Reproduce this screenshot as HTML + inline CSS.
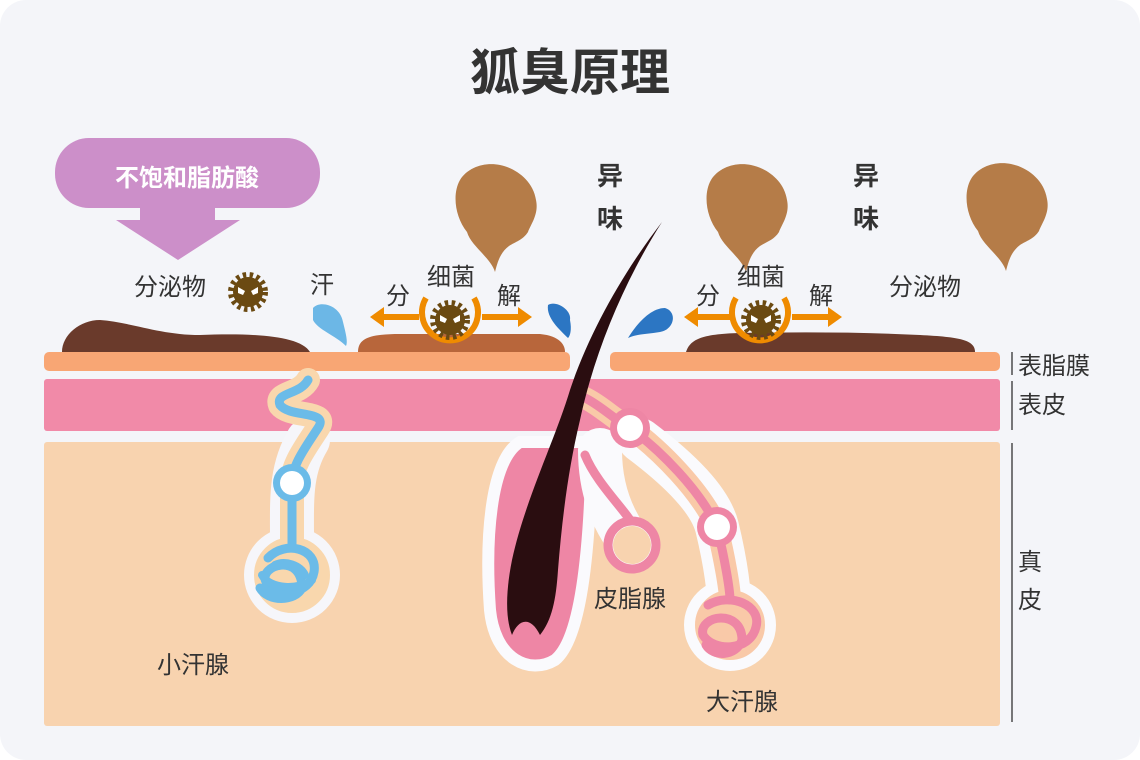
<!DOCTYPE html>
<html><head><meta charset="utf-8"><style>
html,body{margin:0;padding:0;background:#ffffff}
svg{display:block}
text{font-family:"Liberation Sans","Noto Sans CJK SC",sans-serif;fill:#333}
</style></head><body>
<svg width="1140" height="760" viewBox="0 0 1140 760" xmlns="http://www.w3.org/2000/svg">
<defs>
<g id="bact">
<circle r="16" fill="none" stroke="#6b4a12" stroke-width="8" stroke-dasharray="3.2 3.2"/>
<circle r="15" fill="#6b4a12"/>
<path d="M-10,-5 L-3,-1 L-5,3 L-10,1Z M10,-5 L3,-1 L5,3 L10,1Z" fill="#fff"/>
</g>
<path id="smell" d="M0,0 C-4,-14 -24,-26 -28,-40 C-40,-55 -43,-78 -35,-92 C-27,-105 -10,-110 5,-107 C20,-104 38,-92 41,-72 C44,-58 36,-48 33,-40 C28,-32 20,-30 14,-26 C6,-20 3,-12 0,0Z" fill="#b57c48"/>
</defs>
<rect x="0" y="0" width="1140" height="760" rx="26" fill="#f4f5f9"/>
<text x="570" y="90" font-size="50" font-weight="bold" text-anchor="middle" fill="#333">狐臭原理</text>

<!-- purple arrow -->
<rect x="55" y="138" width="265" height="70" rx="34" fill="#cc8fc9"/>
<path d="M140,200 H215 V220 H240 L178,260 L116,220 H140Z" fill="#cc8fc9"/>
<text x="187" y="186" font-size="24" font-weight="bold" text-anchor="middle" style="fill:#fff">不饱和脂肪酸</text>

<!-- smells -->
<use href="#smell" x="495" y="272"/>
<use href="#smell" x="746" y="272"/>
<use href="#smell" x="1006" y="271"/>
<text x="610" y="185" font-size="26" font-weight="bold" text-anchor="middle">异</text>
<text x="610" y="228" font-size="26" font-weight="bold" text-anchor="middle">味</text>
<text x="866" y="185" font-size="26" font-weight="bold" text-anchor="middle">异</text>
<text x="866" y="228" font-size="26" font-weight="bold" text-anchor="middle">味</text>

<!-- secretions -->
<path d="M62,352 C62,335 80,320 100,320 C130,322 160,335 200,335 C250,333 300,335 310,352Z" fill="#6a3a2b"/>
<path d="M358,352 C358,338 370,334 400,334 L540,334 C560,336 565,345 565,352Z" fill="#b8663b"/>
<path d="M686,352 C690,340 700,334 740,333 C800,332 860,332 920,335 C960,337 975,340 975,352Z" fill="#6a3a2b"/>

<!-- texts -->
<text x="170" y="295" font-size="24" text-anchor="middle">分泌物</text>
<use href="#bact" x="248" y="292"/>
<text x="322" y="293" font-size="24" text-anchor="middle">汗</text>
<path d="M313,308 C320,300 340,305 343,322 C346,334 348,342 346,346 C335,335 318,330 313,320Z" fill="#6cb7e6"/>
<path d="M548,305 C556,300 572,310 570,320 C572,330 570,336 568,338 C560,330 546,318 548,305Z" fill="#2c76c3"/>
<path d="M628,338 C636,325 650,308 665,308 C678,312 674,330 660,332 C648,334 636,334 628,338Z" fill="#2c76c3"/>
<text x="451" y="285" font-size="24" text-anchor="middle">细菌</text>
<text x="398" y="304" font-size="24" text-anchor="middle">分</text>
<text x="509" y="304" font-size="24" text-anchor="middle">解</text>
<text x="761" y="285" font-size="24" text-anchor="middle">细菌</text>
<text x="708" y="304" font-size="24" text-anchor="middle">分</text>
<text x="821" y="304" font-size="24" text-anchor="middle">解</text>
<text x="925" y="295" font-size="24" text-anchor="middle">分泌物</text>

<!-- layers -->
<rect x="44" y="352" width="526" height="19" rx="5" fill="#f8a674"/>
<rect x="610" y="352" width="390" height="19" rx="5" fill="#f8a674"/>
<rect x="44" y="379" width="956" height="52" rx="3" fill="#f18aa8"/>
<rect x="44" y="442" width="956" height="284" rx="3" fill="#f8d3af"/>

<!-- bacteria circles with arrows -->
<g stroke="#ef8b00" stroke-width="6" fill="none">
<path d="M419,317 H374 M482,317 H528"/>
<path d="M426,298 A28,28 0 1 0 474,298"/>
<path d="M730,317 H688 M792,317 H838"/>
<path d="M736,298 A28,28 0 1 0 784,298"/>
</g>
<path d="M370,317 L384,307 L384,327Z M532,317 L518,307 L518,327Z M684,317 L698,307 L698,327Z M842,317 L828,307 L828,327Z" fill="#ef8b00"/>
<use href="#bact" x="450" y="320"/>
<use href="#bact" x="761" y="320"/>

<!-- small sweat gland -->
<g fill="none" stroke-linecap="round" stroke-linejoin="round">
<g stroke="#f6f6fa" stroke-width="44">
<path d="M308,440 C290,470 292,500 292,540"/><circle cx="292" cy="575" r="26" fill="#f6f6fa"/>
</g>
<g stroke="#f9d7ad" stroke-width="24">
<path d="M308,380 C300,395 275,392 280,405 C290,418 330,410 318,428 C305,448 292,465 292,483 L292,545"/>
<circle cx="292" cy="575" r="26" fill="#f9d7ad"/>
</g>
<g stroke="#6bbbe8" stroke-width="9">
<path d="M308,380 C300,395 275,392 280,405 C290,418 330,410 318,428 C305,448 292,465 292,483 L292,545"/>
<path d="M268,558 C285,540 318,548 314,572 C310,595 278,598 266,582 C258,565 302,552 302,588 C295,602 268,602 260,588"/>
<path d="M275,565 C285,560 300,565 305,575 M262,575 C270,590 300,590 312,580" stroke-width="8"/>
</g>
<circle cx="292" cy="483" r="19" fill="#6bbbe8"/>
<circle cx="292" cy="483" r="12" fill="#fff"/>
</g>

<!-- follicle -->
<path d="M520,442 C490,460 485,540 490,610 C495,660 530,675 555,660 C580,640 590,560 592,442Z" fill="#ee86a5" stroke="#fafafd" stroke-width="12"/>

<!-- big sweat gland & sebaceous -->
<g fill="none" stroke-linecap="round" stroke-linejoin="round">
<g stroke="#fafafd" stroke-width="44">
<path d="M600,450 C600,500 620,530 632,545"/>
<path d="M640,440 C680,470 710,500 717,527 C725,560 730,590 730,620"/>
<circle cx="730" cy="625" r="24" fill="#fafafd"/>
</g>
<g stroke="#f9c9a8" stroke-width="22">
<path d="M585,398 C600,405 615,420 630,428 C660,450 700,490 717,527 C725,560 730,590 730,600"/>
<circle cx="730" cy="625" r="24" fill="#f9c9a8"/>
</g>
<g stroke="#ee86a5" stroke-width="9">
<path d="M585,398 C600,405 615,420 630,428 C660,450 700,490 717,527 C725,560 730,590 730,600"/>
<path d="M585,455 C595,480 620,505 630,520"/>
<circle cx="632" cy="545" r="24"/>
<path d="M708,605 C730,592 762,605 756,627 C750,652 713,652 703,635 C698,615 742,608 742,640 C736,657 713,657 706,645"/>
</g>
<circle cx="632" cy="545" r="19" fill="#f8d3af"/>
<circle cx="630" cy="428" r="20" fill="#ee86a5"/>
<circle cx="630" cy="428" r="13" fill="#fff"/>
<circle cx="717" cy="527" r="20" fill="#ee86a5"/>
<circle cx="717" cy="527" r="13" fill="#fff"/>
</g>

<!-- hair -->
<path d="M662,222 C625,270 590,330 570,390 C555,440 525,500 512,560 C505,595 506,620 512,635 C518,620 530,615 540,635 C552,620 556,600 558,570 C562,520 568,470 580,420 C595,350 625,280 662,222Z" fill="#2a0d10"/>

<!-- labels -->
<text x="630" y="607" font-size="24" text-anchor="middle">皮脂腺</text>
<text x="193" y="673" font-size="24" text-anchor="middle">小汗腺</text>
<text x="742" y="710" font-size="24" text-anchor="middle">大汗腺</text>
<line x1="1012" y1="352" x2="1012" y2="375" stroke="#222" stroke-width="1.2"/>
<line x1="1012" y1="381" x2="1012" y2="430" stroke="#222" stroke-width="1.2"/>
<line x1="1012" y1="443" x2="1012" y2="722" stroke="#222" stroke-width="1.2"/>
<text x="1018" y="374" font-size="24">表脂膜</text>
<text x="1018" y="413" font-size="24">表皮</text>
<text x="1018" y="570" font-size="24">真</text>
<text x="1018" y="608" font-size="24">皮</text>
</svg>
</body></html>
